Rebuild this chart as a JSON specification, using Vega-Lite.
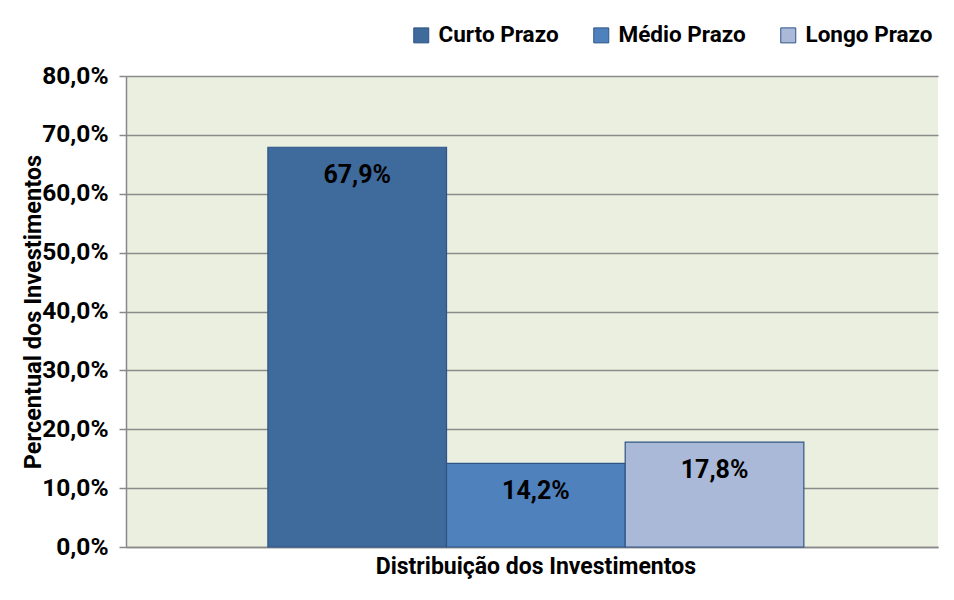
{
  "$schema": "https://vega.github.io/schema/vega-lite/v6.json",
  "width": 812,
  "height": 471,
  "autosize": {"type": "none"},
  "padding": {"left": 126, "top": 76, "right": 16, "bottom": 53},
  "background": "white",
  "config": {
    "locale": {"number": {"decimal": ",", "thousands": ".", "grouping": [3], "currency": ["R$ ", ""]}},
    "view": {"fill": "#EBEFDF", "stroke": null},
    "font": "Roboto"
  },
  "data": {
    "values": [
      {"grupo": "Distribuição dos Investimentos", "prazo": "Curto Prazo", "valor": 0.679},
      {"grupo": "Distribuição dos Investimentos", "prazo": "Médio Prazo", "valor": 0.142},
      {"grupo": "Distribuição dos Investimentos", "prazo": "Longo Prazo", "valor": 0.178}
    ]
  },
  "encoding": {
    "x": {
      "field": "grupo",
      "type": "nominal",
      "scale": {"paddingInner": 0, "paddingOuter": 0.2575, "align": 0.514},
      "axis": {
        "title": null,
        "labelAngle": 0,
        "ticks": false,
        "domainColor": "#888888",
        "domainWidth": 1.5,
        "labelFont": "Roboto",
        "labelFontSize": 23,
        "labelFontWeight": "bold",
        "labelColor": "black",
        "labelPadding": 8,
        "labelLimit": 0
      }
    },
    "xOffset": {
      "field": "prazo",
      "type": "nominal",
      "sort": ["Curto Prazo", "Médio Prazo", "Longo Prazo"],
      "scale": {"paddingInner": 0, "paddingOuter": 0}
    },
    "y": {
      "field": "valor",
      "type": "quantitative",
      "scale": {"domain": [0, 0.8], "nice": false},
      "axis": {
        "values": [0, 0.1, 0.2, 0.3, 0.4, 0.5, 0.6, 0.7, 0.8],
        "format": ".1%",
        "title": "Percentual dos Investimentos",
        "titleFont": "Roboto",
        "titleFontSize": 23.5,
        "titleFontWeight": "bold",
        "titleColor": "black",
        "titleAngle": -90,
        "titleX": -93,
        "titleY": 235.5,
        "titleAlign": "center",
        "titleBaseline": "middle",
        "labelFont": "Roboto",
        "labelFontSize": 24.5,
        "labelFontWeight": "bold",
        "labelColor": "black",
        "labelPadding": 11,
        "tickSize": 7,
        "tickColor": "#888888",
        "tickWidth": 1.5,
        "domainColor": "#888888",
        "domainWidth": 1.5,
        "grid": true,
        "gridColor": "#8a8a8a",
        "gridWidth": 1.5
      }
    }
  },
  "layer": [
    {
      "mark": {"type": "bar", "stroke": "#2F5587", "strokeWidth": 1.2},
      "encoding": {
        "color": {
          "field": "prazo",
          "type": "nominal",
          "sort": ["Curto Prazo", "Médio Prazo", "Longo Prazo"],
          "scale": {
            "domain": ["Curto Prazo", "Médio Prazo", "Longo Prazo"],
            "range": ["#3F6A9C", "#4F81BD", "#AAB9D8"]
          },
          "legend": {
            "title": null,
            "orient": "none",
            "legendX": 284,
            "legendY": -52,
            "direction": "horizontal",
            "symbolType": "square",
            "symbolSize": 225,
            "symbolStrokeColor": "#2F5587",
            "symbolStrokeWidth": 1,
            "labelFont": "Roboto",
            "labelFontSize": 22.5,
            "labelFontWeight": "bold",
            "labelColor": "black",
            "labelOffset": 6,
            "labelLimit": 0,
            "columnPadding": 31
          }
        }
      }
    },
    {
      "mark": {"type": "text", "baseline": "middle", "dy": 28, "font": "Roboto", "fontSize": 25, "fontWeight": "bold", "color": "black"},
      "encoding": {
        "text": {"field": "valor", "type": "quantitative", "format": ".1%"}
      }
    }
  ]
}
